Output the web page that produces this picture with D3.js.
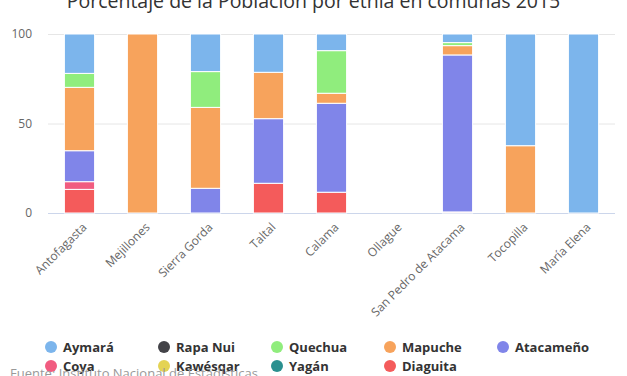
<!DOCTYPE html>
<html>
<head>
<meta charset="utf-8">
<script src="https://cdn.jsdelivr.net/npm/d3@7"></script>
<style>
  body { margin: 0; background: #fff; }
  text { font-family: "Open Sans", sans-serif; }
</style>
</head>
<body>
<div id="chart"></div>
<script>
// data (percent of population per commune)
const comunas = ["Antofagasta", "Mejillones", "Sierra Gorda", "Taltal", "Calama",
  "Ollague", "San Pedro de Atacama", "Tocopilla", "María Elena"];
const etnias = ["Aymará", "Rapa Nui", "Quechua", "Mapuche", "Atacameño",
  "Coya", "Kawésqar", "Yagán", "Diaguita"];
const colores = ["#7cb5ec", "#434348", "#90ed7d", "#f7a35c", "#8085e9",
  "#f15c80", "#e4d354", "#2b908f", "#f45b5b"];

const aymara    = [22, 0, 21, 21.4, 9.3, 0, 4.8, 62.4, 100];
const rapaNui   = [0, 0, 0, 0, 0, 0, 0, 0, 0];
const quechua   = [7.8, 0, 20, 0, 23.8, 0, 1.7, 0, 0];
const mapuche   = [35.4, 100, 45.2, 25.9, 5.6, 0, 5.2, 37.6, 0];
const atacameno = [17.3, 0, 13.8, 36.1, 49.7, 0, 87.7, 0, 0];
const coya      = [4.3, 0, 0, 0, 0, 0, 0, 0, 0];
const kawesqar  = [0, 0, 0, 0, 0, 0, 0, 0, 0];
const yagan     = [0, 0, 0, 0, 0, 0, 0, 0, 0];
const diaguita  = [13.2, 0, 0, 16.6, 11.6, 0, 0.6, 0, 0];
const yTicks = [0, 50, 100];

const series = [aymara, rapaNui, quechua, mapuche, atacameno, coya, kawesqar, yagan, diaguita];

const W = 627, H = 376, M = {t: 34, r: 12, b: 163, l: 48};
const svg = d3.select("#chart").append("svg")
  .attr("width", W)
  .attr("height", H);

const rows = comunas.map((c, i) => {
  const r = {comuna: c};
  etnias.forEach((e, j) => r[e] = series[j][i]);
  return r;
});

// first series ends up on top, like the original
const stack = d3.stack().keys(etnias.slice().reverse());
const layers = stack(rows);

const x = d3.scaleBand()
  .domain(comunas)
  .range([M.l, W - M.r])
  .paddingInner(0.52)
  .paddingOuter(0.26);

const y = d3.scaleLinear()
  .domain([0, 100])
  .range([H - M.b, M.t]);

const color = d3.scaleOrdinal().domain(etnias).range(colores);

// grid
svg.append("g")
  .selectAll("line")
  .data(yTicks)
  .enter()
  .append("line")
  .attr("x1", M.l)
  .attr("x2", W - M.r)
  .attr("y1", d => y(d) + 0.5)
  .attr("y2", d => y(d) + 0.5)
  .attr("stroke", d => d === 0 ? "#ccd6eb" : "#e6e6e6");

const yAxis = svg.append("g")
  .attr("transform", `translate(${M.l - 16},0)`)
  .call(d3.axisLeft(y).tickValues(yTicks).tickSize(0).tickPadding(0));
yAxis.select(".domain").remove();
yAxis.selectAll("text")
  .attr("fill", "#666")
  .style("font-size", "12px")
  .attr("text-anchor", "end")
  .attr("dy", "0.32em");

// bars
svg.append("g")
  .selectAll("g")
  .data(layers)
  .enter()
  .append("g")
  .attr("fill", d => color(d.key))
  .selectAll("rect")
  .data(d => d)
  .enter()
  .filter(d => d[1] - d[0] > 0)
  .append("rect")
  .attr("x", d => x(d.data.comuna))
  .attr("width", x.bandwidth())
  .attr("y", d => y(d[1]))
  .attr("height", d => y(d[0]) - y(d[1]))
  .attr("stroke", "#fff")
  .attr("stroke-width", 1);

// x labels
const xAxis = svg.append("g")
  .attr("transform", `translate(0,${H - M.b})`)
  .call(d3.axisBottom(x).tickSize(0).tickPadding(0));
xAxis.select(".domain").remove();
xAxis.selectAll("text")
  .attr("fill", "#666")
  .style("font-size", "12px")
  .attr("text-anchor", "end")
  .attr("transform", "translate(5,12) rotate(-45)")
  .attr("dy", "0.35em");

// title
svg.append("text")
  .attr("x", W / 2)
  .attr("y", 8)
  .attr("text-anchor", "middle")
  .attr("fill", "#333")
  .style("font-size", "19.5px")
  .text("Porcentaje de la Población por etnia en comunas 2015");

// legend
const legend = svg.append("g");
const item = legend.selectAll("g")
  .data(etnias)
  .enter()
  .append("g")
  .attr("transform", (d, i) => `translate(${[51, 164, 277, 390, 503][i % 5]},${i < 5 ? 347 : 366})`);
item.append("circle")
  .attr("r", 6)
  .attr("fill", d => color(d));
item.append("text")
  .attr("x", 12)
  .attr("dy", "0.35em")
  .attr("fill", "#333")
  .style("font-size", "13px")
  .style("font-weight", "bold")
  .text(d => d);

// credits
svg.append("text")
  .attr("x", 10)
  .attr("y", 378)
  .attr("fill", "#999")
  .style("font-size", "13px")
  .text("Fuente: Instituto Nacional de Estadísticas");
</script>
</body>
</html>
